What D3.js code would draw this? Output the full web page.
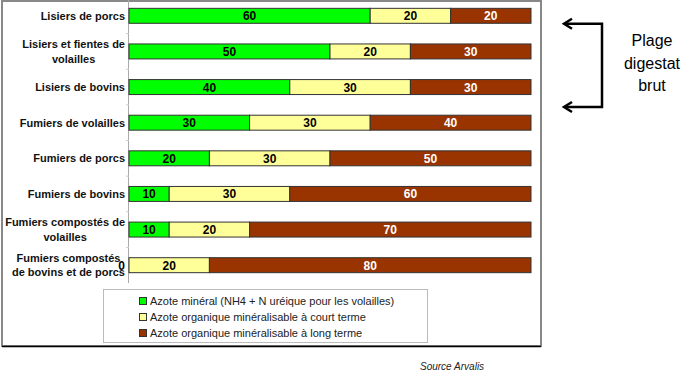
<!DOCTYPE html>
<html>
<head>
<meta charset="utf-8">
<script src="https://cdn.jsdelivr.net/npm/d3@7"></script>
<style>
  body { margin: 0; background: #fff; }
  svg { display: block; font-family: Arial, "Liberation Sans", sans-serif; }
</style>
</head>
<body>
<div id="chart"></div>
<script>
// categories (two-line labels split by |)
var categories = [
    'Lisiers de porcs',
    'Lisiers et fientes de|volailles',
    'Lisiers de bovins',
    'Fumiers de volailles',
    'Fumiers de porcs',
    'Fumiers de bovins',
    'Fumiers compostés de|volailles',
    'Fumiers compostés|de bovins et de porcs'
];
var mineral = [60, 50, 40, 30, 20, 10, 10, 0];
var courtTerme = [20, 20, 30, 30, 30, 30, 20, 20];
var longTerme = [20, 30, 30, 40, 50, 60, 70, 80];
var seriesNames = [
    'Azote minéral (NH4 + N uréique pour les volailles)',
    'Azote organique minéralisable à court terme',
    'Azote organique minéralisable à long terme'
];
var colors = ['#00ff00', '#ffff99', '#993300'];
var labelColors = ['#000', '#000', '#fff'];

var width = 700, height = 377;
var margins = { left: 129, right: 170, top: -2, bottom: 94 };

var svg = d3.select('#chart').append('svg')
    .attr('width', width).attr('height', height);

// frame
svg.append('rect')
    .attr('x', 2).attr('y', 1).attr('width', 539).attr('height', 345)
    .attr('fill', 'none').attr('stroke', '#888').attr('stroke-width', 2);
svg.append('line')
    .attr('x1', 2).attr('x2', 541).attr('y1', 346.5).attr('y2', 346.5)
    .attr('stroke', '#000').attr('stroke-width', 1.5);

var x = d3.scaleLinear().domain([0, 100]).range([margins.left, width - margins.right + 1]);
var y = d3.scaleBand().domain(d3.range(categories.length))
    .range([margins.top, height - margins.bottom]).paddingInner(0.58).paddingOuter(0.29);

// axis with ticks between bands
var step = y.step();
var axisG = svg.append('g');
axisG.append('line')
    .attr('x1', x(0) - 0.5).attr('x2', x(0) - 0.5)
    .attr('y1', 0).attr('y2', height - margins.bottom)
    .attr('stroke', '#aaa');
axisG.selectAll('line.tick').data(d3.range(1, categories.length)).enter().append('line')
    .attr('class', 'tick')
    .attr('x1', x(0) - 3).attr('x2', x(0))
    .attr('y1', function(d){ return y(d) - (step - y.bandwidth()) / 2; })
    .attr('y2', function(d){ return y(d) - (step - y.bandwidth()) / 2; })
    .attr('stroke', '#ccc');

// category labels
var cat = svg.selectAll('g.cat').data(categories).enter().append('g').attr('class', 'cat');
cat.each(function(d, i) {
    var lines = d.split('|');
    var g = d3.select(this);
    var t = g.append('text')
        .attr('font-size', 11).attr('font-weight', 'bold').attr('fill', '#111')
        .attr('text-anchor', 'middle');
    var cy = y(i) + y.bandwidth() / 2;
    lines.forEach(function(l, k) {
        t.append('tspan').attr('x', 0)
            .attr('y', cy + 4 + (k - (lines.length - 1) / 2) * 14.5)
            .text(l);
    });
    var w = t.node().getBBox().width;
    t.attr('transform', 'translate(' + (x(0) - 4 - w / 2) + ',0)');
});

// stacked bars
var rows = categories.map(function(c, i){ return [mineral[i], courtTerme[i], longTerme[i]]; });
var stacked = rows.map(function(r) {
    var acc = 0;
    return r.map(function(v, k) { var s = { k: k, x0: acc, x1: acc + v, v: v }; acc += v; return s; });
});

var rowG = svg.selectAll('g.row').data(stacked).enter().append('g').attr('class', 'row')
    .attr('transform', function(d, i){ return 'translate(0,' + y(i) + ')'; });

rowG.selectAll('rect').data(function(d){ return d.filter(function(s){ return s.v > 0; }); })
    .enter().append('rect')
    .attr('x', function(s){ return x(s.x0); })
    .attr('width', function(s){ return x(s.x1) - x(s.x0); })
    .attr('height', y.bandwidth())
    .attr('fill', function(s){ return colors[s.k]; })
    .attr('stroke', '#333').attr('stroke-width', 1);

rowG.selectAll('text').data(function(d){ return d; }).enter().append('text')
    .attr('x', function(s){ return s.v === 0 ? x(s.x0) - 4 : (x(s.x0) + x(s.x1)) / 2; })
    .attr('y', y.bandwidth() / 2 + 4.5)
    .attr('text-anchor', function(s){ return s.v === 0 ? 'end' : 'middle'; })
    .attr('font-size', 12).attr('font-weight', 'bold')
    .attr('fill', function(s){ return s.v === 0 ? '#000' : labelColors[s.k]; })
    .text(function(s){ return s.v; });

// legend
var legend = svg.append('g');
legend.append('rect')
    .attr('x', 103.5).attr('y', 289.5).attr('width', 324).attr('height', 53)
    .attr('fill', '#fff').attr('stroke', '#bbb');
var item = legend.selectAll('g.item').data(seriesNames).enter().append('g')
    .attr('transform', function(d, i){ return 'translate(139,' + (301 + i * 16) + ')'; });
item.append('rect')
    .attr('x', 0.5).attr('y', -3.5).attr('width', 7).attr('height', 7)
    .attr('fill', function(d, i){ return colors[i]; })
    .attr('stroke', '#333');
item.append('text')
    .attr('x', 11).attr('y', 4)
    .attr('font-size', 11).attr('fill', '#222')
    .text(function(d){ return d; });

// source
svg.append('text')
    .attr('x', 420).attr('y', 370)
    .attr('font-size', 10).attr('font-style', 'italic').attr('fill', '#222')
    .text('Source Arvalis');

// bracket "Plage digestat brut"
var yTop = y(0) + y.bandwidth() / 2 + 8, yBot = y(2) + y.bandwidth() / 2 + 20;
svg.append('path')
    .attr('d', 'M565,' + yTop + 'H602V' + yBot + 'H565')
    .attr('fill', 'none').attr('stroke', '#000').attr('stroke-width', 2.5);
[yTop, yBot].forEach(function(yy) {
    svg.append('path')
        .attr('d', 'M572,' + (yy - 5) + 'L564,' + yy + 'L572,' + (yy + 5))
        .attr('fill', 'none').attr('stroke', '#000').attr('stroke-width', 2.5);
});
var note = svg.append('text').attr('text-anchor', 'middle').attr('font-size', 16).attr('fill', '#000');
['Plage', 'digestat', 'brut'].forEach(function(l, k) {
    note.append('tspan').attr('x', 652).attr('y', 46 + k * 22.5).text(l);
});
</script>
</body>
</html>
